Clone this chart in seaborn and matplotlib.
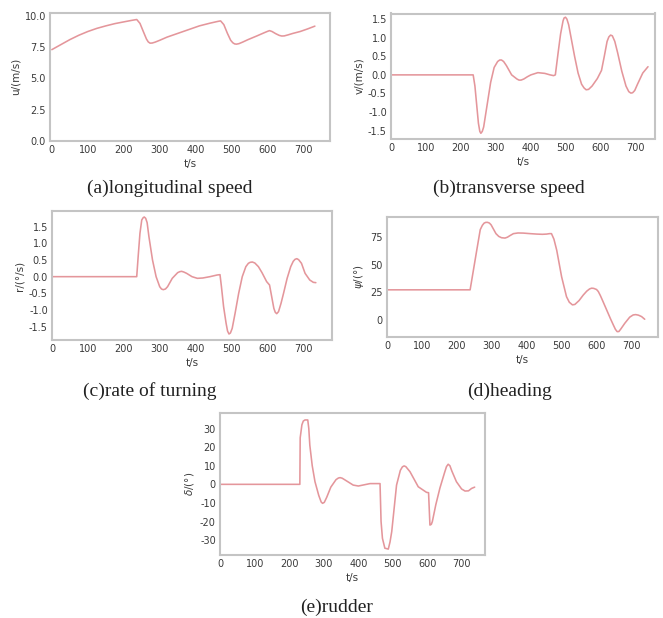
import matplotlib
matplotlib.use("Agg")
import matplotlib.pyplot as plt
import seaborn as sns
import pandas as pd

# ---------------- data ----------------
t_u = [0, 25, 50, 75, 100, 125, 150, 175, 200, 220, 236, 245, 255, 263, 268, 273, 279, 287, 300,
       320, 350, 380, 410, 440, 460, 469, 478, 488, 497, 503, 508, 513, 520, 530, 545, 570, 590,
       600, 605, 612, 622, 632, 639, 646, 655, 670, 690, 710, 731]
u_vals = [7.3, 7.7, 8.1, 8.45, 8.75, 9.0, 9.2, 9.38, 9.52, 9.63, 9.71, 9.4, 8.7, 8.15, 7.92, 7.82, 7.83, 7.9, 8.05,
          8.3, 8.6, 8.9, 9.2, 9.42, 9.55, 9.6, 9.3, 8.6, 8.05, 7.85, 7.76, 7.74, 7.78, 7.9, 8.1, 8.4, 8.65,
          8.77, 8.82, 8.75, 8.58, 8.44, 8.39, 8.4, 8.47, 8.6, 8.75, 8.95, 9.18]

t_v = [0, 235, 240, 245, 250, 254, 257, 261, 265, 275, 285, 295, 305, 311, 316, 322, 330, 345, 360, 366, 372, 380, 390,
       400, 420, 440, 455, 465, 470, 478, 485, 492, 495, 499, 503, 508, 515, 525, 535, 545, 552, 558, 565,
       575, 590, 602, 610, 618, 623, 628, 633, 640, 648, 660, 672, 680, 686, 691, 697, 705, 720, 735]
v_vals = [0.0, 0.0, -0.3, -0.8, -1.3, -1.52, -1.57, -1.52, -1.4, -0.8, -0.2, 0.2, 0.36, 0.40, 0.40, 0.36, 0.25, 0.0, -0.11, -0.14, -0.14, -0.11, -0.05,
          0.0, 0.06, 0.04, 0.0, -0.02, 0.0, 0.6, 1.1, 1.45, 1.53, 1.55, 1.5, 1.35, 1.0, 0.5, 0.05, -0.25, -0.35, -0.40, -0.39,
          -0.3, -0.1, 0.12, 0.5, 0.9, 1.02, 1.07, 1.05, 0.9, 0.6, 0.1, -0.3, -0.45, -0.49, -0.48, -0.42, -0.25, 0.05, 0.22]

t_r = [0, 236, 240, 245, 250, 254, 257, 261, 265, 270, 280, 290, 300, 305, 310, 316, 322, 335, 350, 356, 361, 367, 375,
       390, 405, 420, 440, 460, 468, 472, 478, 485, 489, 493, 497, 502, 510, 520, 530, 540, 547, 552, 558, 565,
       575, 585, 598, 606, 612, 618, 622, 626, 631, 638, 645, 655, 665, 672, 677, 682, 687, 695, 705, 718, 728, 735]
r_vals = [0.0, 0.0, 0.6, 1.3, 1.7, 1.77, 1.79, 1.75, 1.62, 1.2, 0.5, 0.0, -0.3, -0.37, -0.39, -0.37, -0.3, -0.05, 0.12, 0.15, 0.16, 0.14, 0.1,
          0.0, -0.05, -0.04, 0.0, 0.05, 0.06, -0.3, -0.9, -1.4, -1.63, -1.72, -1.69, -1.55, -1.1, -0.5, 0.0, 0.3, 0.4, 0.43, 0.44, 0.41,
          0.3, 0.12, -0.15, -0.25, -0.6, -0.95, -1.07, -1.11, -1.05, -0.8, -0.5, -0.05, 0.3, 0.46, 0.52, 0.54, 0.51, 0.4, 0.1, -0.1, -0.17, -0.18]

t_psi = [0, 238, 257, 267, 273, 278, 283, 288, 293, 298, 305, 312, 320, 328, 338, 345, 352, 362, 375, 390, 410, 429, 445, 457,
         465, 471, 478, 486, 500, 514, 522, 531, 538, 550, 562, 572, 580, 586, 592, 600, 605, 611, 618, 629, 640, 648,
         654, 659, 664, 670, 681, 695, 705, 712, 720, 729, 738]
psi_vals = [27.2, 27.2, 63, 81.6, 85.5, 87.5, 88.2, 88.2, 87.6, 86, 82, 78, 75.5, 74.3, 74, 74.8, 76.2, 78, 78.6, 78.5, 78, 77.6, 77.4, 77.6,
            78, 78, 73, 63, 39, 21, 16, 13.6, 14, 17.5, 22.5, 26, 28, 28.7, 28.5, 27.5, 25.7, 22, 17, 9, 1, -4.5,
            -8.5, -10.6, -10.5, -8, -3, 2.5, 4.5, 4.8, 4.3, 3.0, 0.6]

t_delta = [0, 230, 231, 236, 240, 245, 253, 256, 259, 266, 274, 285, 292, 296, 301, 308, 320, 335, 342, 347, 353, 360, 385,
           400, 434, 463, 466, 470, 477, 487, 492, 497, 511, 522, 528, 533, 538, 550, 574, 598, 604, 608, 612, 615,
           625, 637, 650, 656, 661, 666, 672, 685, 700, 710, 720, 729, 738]
delta_vals = [0.0, 0.0, 25, 32, 34, 34.6, 34.6, 30, 21, 10, 1.4, -6, -9.5, -10.2, -9.7, -7, -1.5, 2.5, 3.4, 3.6, 3.3, 2.5, -0.4,
              -0.9, 0.4, 0.4, -20, -29, -34.3, -34.8, -31, -25.4, -0.4, 7.5, 9.4, 9.9, 9.5, 6.8, -1.3, -4.3, -4.5, -21.9, -21.5, -20,
              -11, -2, 6, 9.5, 10.8, 10.0, 7, 1.4, -2.5, -3.6, -3.5, -2.2, -1.5]

ylabels = ["u/(m/s)", "v/(m/s)", "r/(°/s)", r"$\psi$/(°)", r"$\delta$/(°)"]
captions = ["(a)longitudinal speed", "(b)transverse speed", "(c)rate of turning",
            "(d)heading", "(e)rudder"]
x_ticks = [0, 100, 200, 300, 400, 500, 600, 700]

# ---------------- style ----------------
sns.set_style("white")
plt.rcParams["font.family"] = ["DejaVu Sans"]

W, H = 663, 618
fig = plt.figure(figsize=(W / 100, H / 100), dpi=100)

LINE = "#e4969b"
SPINE = "#c4c4c4"
TXT = "#3a3a3a"

# pixel boxes (left, top, right, bottom)
boxes = [(50, 12.5, 330, 141),
         (391, 13.5, 655, 138.5),
         (52, 211, 332, 340),
         (387, 216.5, 658, 336.5),
         (220, 412.5, 485, 554.5)]
xlims = [(-5, 773), (0, 755), (0, 780), (0, 776), (-2, 768)]
ylims = [(0.0, 10.27), (-1.71, 1.65), (-1.9, 1.97), (-15, 93.5), (-37.7, 38.6)]
yticks = [[0, 2.5, 5.0, 7.5, 10.0],
          [-1.5, -1.0, -0.5, 0.0, 0.5, 1.0, 1.5],
          [-1.5, -1.0, -0.5, 0.0, 0.5, 1.0, 1.5],
          [0, 25, 50, 75],
          [-30, -20, -10, 0, 10, 20, 30]]
yfmt = ["{:.1f}", "{:.1f}", "{:.1f}", "{:.0f}", "{:.0f}"]
series = [(t_u, u_vals), (t_v, v_vals), (t_r, r_vals), (t_psi, psi_vals), (t_delta, delta_vals)]
cap_pos = [(170, 188), (509, 188), (150, 391), (510, 391), (337, 607)]

for i, (box, (tt, vv)) in enumerate(zip(boxes, series)):
    l, t, r, b = box
    ax = fig.add_axes([l / W, 1 - b / H, (r - l) / W, (b - t) / H])
    df = pd.DataFrame({"t": tt, "y": vv})
    sns.lineplot(data=df, x="t", y="y", ax=ax, color=LINE, linewidth=1.15)
    ax.set_xlim(*xlims[i])
    ax.set_ylim(*ylims[i])
    ax.set_xticks(x_ticks)
    ax.set_xticklabels([str(v) for v in x_ticks])
    ax.set_yticks(yticks[i])
    ax.set_yticklabels([yfmt[i].format(v) for v in yticks[i]])
    ax.tick_params(axis="both", length=0, pad=3, labelsize=7, labelcolor=TXT)
    for s in ax.spines.values():
        s.set_color(SPINE)
        s.set_linewidth(1.5)
    ax.set_xlabel("t/s", fontsize=7.5, color=TXT, labelpad=3)
    ax.set_ylabel(ylabels[i], fontsize=7.5, color=TXT, labelpad=3)
    cx, cy = cap_pos[i]
    fig.text(cx / W, 1 - cy / H, captions[i], ha="center", va="center",
             fontsize=14, family="Liberation Serif", color="#222222")

fig.savefig("out.png", dpi=100)
